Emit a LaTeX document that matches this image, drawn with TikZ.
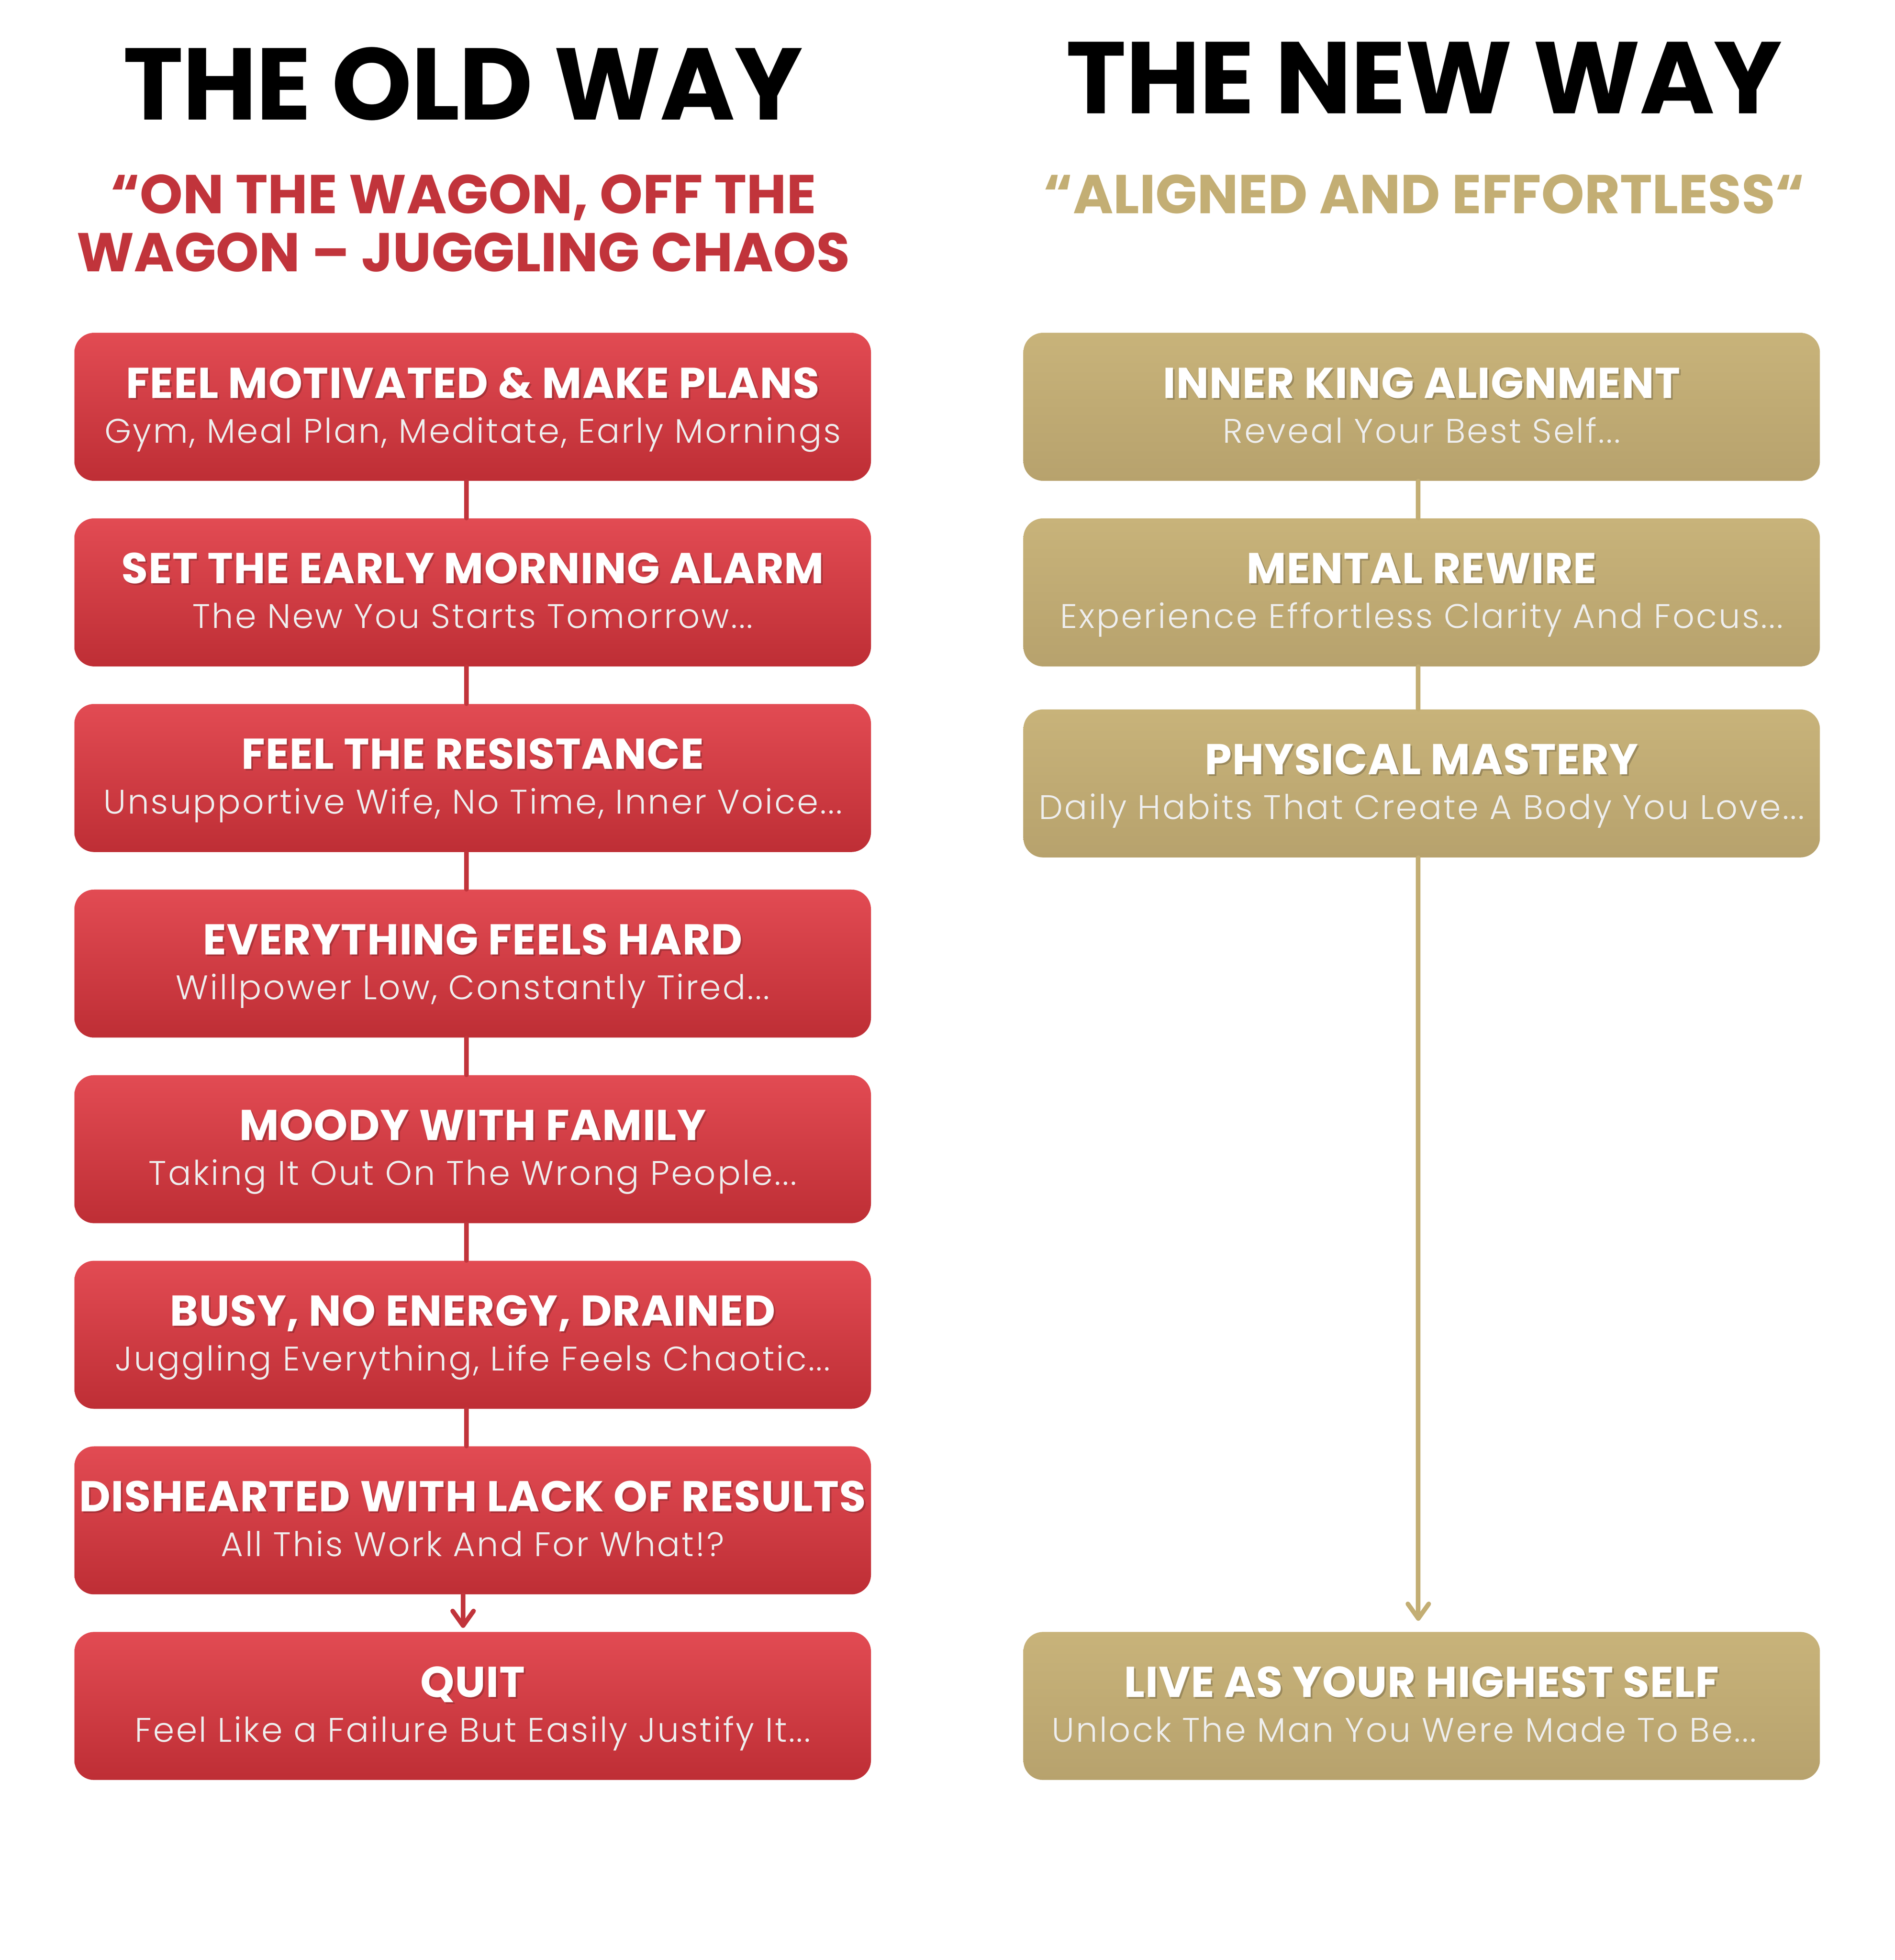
\documentclass[tikz,border=0pt]{standalone}
\usepackage{fontspec}
\setmainfont{Poppins}
\newfontfamily\poplight{Poppins Light}[LetterSpace=4.9]
\newfontfamily\popbold{Poppins Bold}[LetterSpace=1.3]
\newfontfamily\pophead{Poppins Bold}[LetterSpace=-0.9]
\usetikzlibrary{chains,positioning,arrows.meta}
\definecolor{redtop}{HTML}{E24B53}
\definecolor{redbot}{HTML}{BE2E35}
\definecolor{goldtop}{HTML}{C8B37A}
\definecolor{goldbot}{HTML}{B7A26D}
\definecolor{oldred}{HTML}{C1343B}
\definecolor{newgold}{HTML}{C3AE74}
\definecolor{subgray}{HTML}{EEEEEE}
\newcommand{\shadowed}[1]{\rlap{\kern0.04cm\raisebox{-0.04cm}{\pgfsetfillopacity{0.2}\color{black}#1\pgfsetfillopacity{1}}}#1}
\newcommand{\boxtext}[2]{\rule{0pt}{1cm}{\popbold\fontsize{29.4pt}{1.07cm}\selectfont\shadowed{#1}}\\
  {\poplight\fontsize{23.2pt}{1.07cm}\selectfont\color{subgray}#2}\rule[-0.35cm]{0pt}{0.35cm}}

\begin{document}
\begin{tikzpicture}[ node distance=0.885cm,
  font=\fontsize{23.2pt}{1.07cm}\selectfont,
  box/.style={rectangle, rounded corners=0.47cm, minimum width=19.05cm, minimum height=3.54cm,
    inner sep=0pt, align=center, text=white},
  red box/.style={box, top color=redtop, bottom color=redbot},
  gold box/.style={box, top color=goldtop, bottom color=goldbot},
  head/.style={anchor=base, font=\pophead\fontsize{69.4pt}{80pt}\selectfont},
  quote/.style={anchor=base, align=center, font=\bfseries\fontsize{37.2pt}{1.39cm}\selectfont},
  stroke/.style={line width=0.11cm, line cap=round},
  red line/.style={stroke, draw=oldred, transform canvas={xshift=-0.15cm}},
  gold line/.style={stroke, draw=newgold, transform canvas={xshift=-0.08cm}},
  red arrow/.style={stroke, draw=oldred, transform canvas={xshift=-0.23cm},
    -{Straight Barb[round, length=0.35cm, width=0.5cm]}, shorten >=0.09cm},
  gold arrow/.style={gold line, -{Straight Barb[round, length=0.35cm, width=0.5cm]}, shorten >=0.26cm},
  ]
  \useasboundingbox (0,0) rectangle (45.31,-46.88);

  \node (old head) [head] at (11.07,-2.87) {THE OLD WAY};
  \node (new head) [head] at (34.06,-2.71) {THE NEW WAY};
  \node (old quote) [quote, text=oldred] at (11.08,-6.49) {“ON THE WAGON, OFF THE\\WAGON – JUGGLING CHAOS};
  \node (new quote) [quote, text=newgold] at (34.06,-5.10) {“ALIGNED AND EFFORTLESS“};

  \begin{scope}[start chain=old going below, every node/.style={on chain}]
    \node (feel motivated) [red box] at (11.305,-9.73) {\boxtext{FEEL MOTIVATED \& MAKE PLANS}{Gym, Meal Plan, Meditate, Early Mornings}};
    \node (set alarm) [red box] {\boxtext{SET THE EARLY MORNING ALARM}{The New You Starts Tomorrow...}};
    \node (resistance) [red box] {\boxtext{FEEL THE RESISTANCE}{Unsupportive Wife, No Time, Inner Voice...}};
    \node (feels hard) [red box] {\boxtext{EVERYTHING FEELS HARD}{Willpower Low, Constantly Tired...}};
    \node (moody) [red box] {\boxtext{MOODY WITH FAMILY}{Taking It Out On The Wrong People...}};
    \node (drained) [red box] {\boxtext{BUSY, NO ENERGY, DRAINED}{Juggling Everything, Life Feels Chaotic...}};
    \node (disheartened) [red box] {\boxtext{DISHEARTED WITH LACK OF RESULTS}{All This Work And For What!?}};
    \node (quit) [red box] {\boxtext{QUIT}{Feel Like a Failure But Easily Justify It...}};
  \end{scope}

  \node (inner king) [gold box, right=3.63cm of feel motivated] {\boxtext{INNER KING ALIGNMENT}{Reveal Your Best Self...}};
  \node (mental rewire) [gold box, right=3.63cm of set alarm] {\boxtext{MENTAL REWIRE}{Experience Effortless Clarity And Focus...}};
  \node (physical mastery) [gold box, right=3.63cm of resistance, yshift=-0.13cm] {\boxtext{PHYSICAL MASTERY}{Daily Habits That Create A Body You Love...}};
  \node (highest self) [gold box, right=3.63cm of quit] {\boxtext{LIVE AS YOUR HIGHEST SELF}{Unlock The Man You Were Made To Be...\hspace*{0.84cm}}};

  % old way connectors
  \path[red line] (feel motivated) -- (set alarm);
  \path[red line] (set alarm) -- (resistance);
  \path[red line] (resistance) -- (feels hard);
  \path[red line] (feels hard) -- (moody);
  \path[red line] (moody) -- (drained);
  \path[red line] (drained) -- (disheartened);
  \path[red arrow] (disheartened) -- (quit);
  % new way connectors
  \path[gold line] (inner king) -- (mental rewire);
  \path[gold line] (mental rewire) -- (physical mastery);
  \path[gold arrow] (physical mastery) -- (highest self);
\end{tikzpicture}
\end{document}
